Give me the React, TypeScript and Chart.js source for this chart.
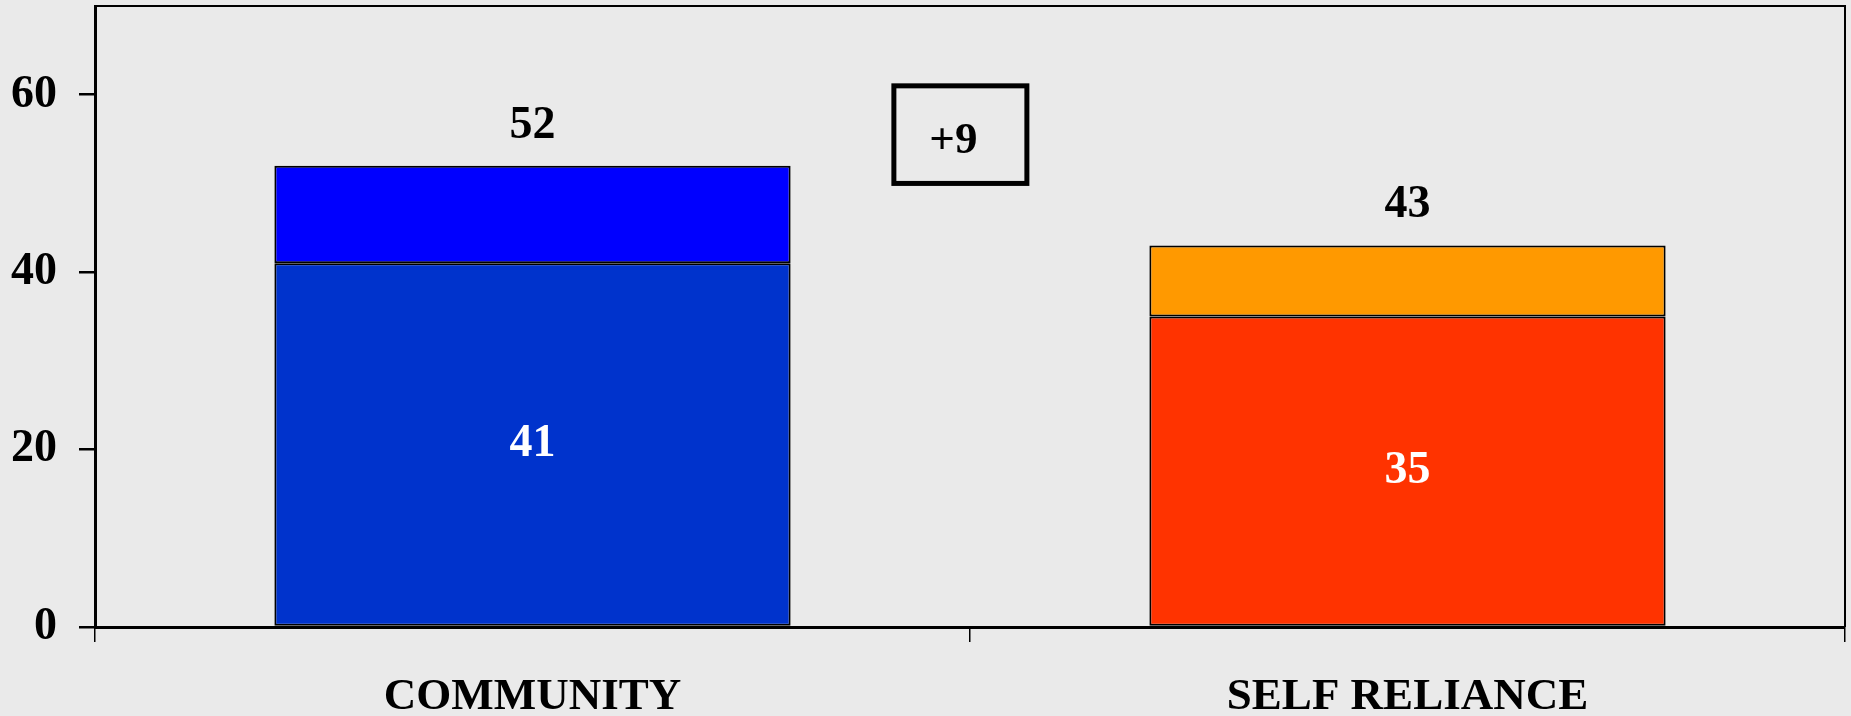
import React, { useEffect, useRef } from "react";
import { Chart, registerables } from "chart.js";

Chart.register(...registerables);

const categories = ["COMMUNITY", "SELF RELIANCE"];
const baseValues = [41, 35];
const totalValues = [52, 43];
const topValues = totalValues.map((t, i) => t - baseValues[i]);
const baseColors = ["#0033CC", "#FF3300"];
const topColors = ["#0000FF", "#FF9900"];
const yTicks = [0, 20, 40, 60];
const yMax = 70;
const diffBox = { x0: 0.413, x1: 0.565, y0: 50, y1: 61 };

const FONT = '"Liberation Serif", "Times New Roman", serif';
const BG = "#EAEAEA";

const labelPlugin = {
  id: "customLabels",
  afterDatasetsDraw(chart: any) {
    const ctx = chart.ctx;
    const metaBase = chart.getDatasetMeta(0);
    const metaTop = chart.getDatasetMeta(1);
    ctx.save();
    ctx.font = `bold 46px ${FONT}`;
    ctx.textAlign = "center";
    ctx.textBaseline = "middle";
    metaBase.data.forEach((el: any, i: number) => {
      ctx.fillStyle = "#FFFFFF";
      ctx.fillText(String(baseValues[i]), el.x, (el.y + el.base) / 2);
    });
    metaTop.data.forEach((el: any, i: number) => {
      ctx.fillStyle = "#000000";
      ctx.fillText(String(totalValues[i]), el.x, el.y - 40);
    });
    // difference box
    const xs = chart.scales.x;
    const ys = chart.scales.y;
    const bx0 = xs.getPixelForValue(diffBox.x0);
    const bx1 = xs.getPixelForValue(diffBox.x1);
    const by0 = ys.getPixelForValue(diffBox.y1);
    const by1 = ys.getPixelForValue(diffBox.y0);
    ctx.lineWidth = 5;
    ctx.strokeStyle = "#000000";
    ctx.strokeRect(bx0, by0, bx1 - bx0, by1 - by0);
    ctx.fillStyle = "#000000";
    ctx.font = `bold 45px ${FONT}`;
    const diff = totalValues[0] - totalValues[1];
    ctx.fillText("+" + diff, (bx0 + bx1) / 2 - 7, (by0 + by1) / 2 + 7);
    // frame top & right
    const ca = chart.chartArea;
    ctx.lineWidth = 2;
    ctx.beginPath();
    ctx.moveTo(ca.left, ca.top);
    ctx.lineTo(ca.right, ca.top);
    ctx.lineTo(ca.right, ca.bottom);
    ctx.stroke();
    ctx.restore();
  },
};

export default function App() {
  const ref = useRef<HTMLCanvasElement>(null);
  useEffect(() => {
    if (!ref.current) return;
    const chart = new Chart(ref.current, {
      type: "bar",
      data: {
        labels: categories,
        datasets: [
          {
            data: baseValues,
            backgroundColor: baseColors,
            borderColor: "#000000",
            borderWidth: 2,
            borderSkipped: false,
            categoryPercentage: 1,
            barPercentage: 0.59,
          },
          {
            data: topValues,
            backgroundColor: topColors,
            borderColor: "#000000",
            borderWidth: 2,
            borderSkipped: false,
            categoryPercentage: 1,
            barPercentage: 0.59,
          },
        ],
      },
      options: {
        animation: false,
        responsive: false,
        maintainAspectRatio: false,
        layout: { padding: { top: 6, right: 6, left: 0, bottom: 0 } },
        plugins: { legend: { display: false }, tooltip: { enabled: false } },
        scales: {
          x: {
            stacked: true,
            grid: {
              display: true,
              drawOnChartArea: false,
              drawTicks: true,
              tickLength: 15,
              color: "#000000",
              lineWidth: 1.5,
              offset: true,
            },
            border: { display: true, color: "#000000", width: 3 },
            ticks: {
              color: "#000000",
              font: { family: FONT, size: 45, weight: "bold" },
              padding: 28,
              maxRotation: 0,
            },
            afterFit(scale: any) {
              scale.height = 89;
              scale.paddingLeft = 0;
              scale.paddingRight = 0;
              scale.paddingTop = 0;
              scale.paddingBottom = 0;
            },
          },
          y: {
            stacked: true,
            min: 0,
            max: yMax,
            grid: {
              display: true,
              drawOnChartArea: false,
              drawTicks: true,
              tickLength: 16,
              color: "#000000",
              lineWidth: 2.5,
            },
            border: { display: true, color: "#000000", width: 3 },
            ticks: {
              color: "#000000",
              font: { family: FONT, size: 46, weight: "bold" },
              padding: 22,
              stepSize: 20,
            },
            afterBuildTicks(scale: any) {
              scale.ticks = yTicks.map((v) => ({ value: v }));
            },
            afterFit(scale: any) {
              scale.width = 95;
              scale.paddingLeft = 0;
              scale.paddingRight = 0;
              scale.paddingTop = 0;
              scale.paddingBottom = 0;
            },
          },
        },
      },
      plugins: [labelPlugin],
    });
    return () => chart.destroy();
  }, []);
  return (
    <div
      style={{
        position: "fixed",
        left: 0,
        top: 0,
        width: 1851,
        height: 716,
        background: BG,
      }}
    >
      <canvas ref={ref} width={1851} height={716} style={{ display: "block" }} />
    </div>
  );
}
